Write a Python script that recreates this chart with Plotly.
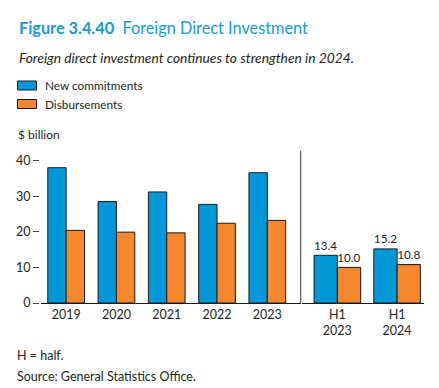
import plotly.graph_objects as go

years = ["2019", "2020", "2021", "2022", "2023"]
commit_years = [38.0, 28.5, 31.2, 27.7, 36.6]
disb_years = [20.4, 19.9, 19.7, 22.4, 23.2]

halves = ["H1<br>2023", "H1<br>2024"]
commit_half = [13.4, 15.2]
disb_half = [10.0, 10.8]

y_ticks = [0, 10, 20, 30, 40]

BLUE = "#0098D8"
ORANGE = "#F5872C"
TXT = "#231F20"
FONT = "Lato"

W, H = 439, 388
ML, MR, MT, MB = 25, 9, 143, 93
PW = W - ML - MR
PH = H - MT - MB


def px(x):
    return (x - ML) / PW


def py(y):
    return (H - MB - y) / PH


fig = go.Figure()
line = dict(color="#1a1a1a", width=1)
bw1 = 0.365
fig.add_trace(go.Bar(x=years, y=commit_years, marker=dict(color=BLUE, line=line),
                     width=bw1, offset=-bw1, xaxis="x", yaxis="y", name="New commitments"))
fig.add_trace(go.Bar(x=years, y=disb_years, marker=dict(color=ORANGE, line=line),
                     width=bw1, offset=0, xaxis="x", yaxis="y", name="Disbursements"))
bw2 = 0.39
lblfont = dict(size=13, color=TXT, family=FONT)
fig.add_trace(go.Bar(x=halves, y=commit_half, marker=dict(color=BLUE, line=line),
                     width=bw2, offset=-bw2, xaxis="x2", yaxis="y2",
                     text=[f"{v:.1f}" for v in commit_half], textposition="outside",
                     textfont=lblfont, cliponaxis=False, name="New commitments"))
fig.add_trace(go.Bar(x=halves, y=disb_half, marker=dict(color=ORANGE, line=line),
                     width=bw2, offset=0, xaxis="x2", yaxis="y2",
                     text=[f"{v:.1f}" for v in disb_half], textposition="outside",
                     textfont=lblfont, cliponaxis=False, name="Disbursements"))

yr = [0, 42.7]
tickfont = dict(size=12.5, color=TXT, family=FONT)
fig.update_layout(
    width=W, height=H, margin=dict(l=ML, r=MR, t=MT, b=MB, autoexpand=False),
    paper_bgcolor="white", plot_bgcolor="white",
    barmode="overlay", showlegend=False,
    font=dict(family=FONT, color=TXT),
    xaxis=dict(domain=[px(33), px(292.5)], range=[-0.5, 4.66], anchor="y",
               showline=True, linecolor="#1a1a1a", linewidth=1, showgrid=False,
               ticks="", tickfont=tickfont, automargin=False),
    xaxis2=dict(domain=[px(293.5), px(416)], range=[-0.6, 1.45], anchor="y2",
                showline=True, linecolor="#1a1a1a", linewidth=1, showgrid=False,
                ticks="", tickfont=tickfont, automargin=False),
    yaxis=dict(range=yr, anchor="free", position=px(31), tickvals=y_ticks,
               ticks="outside", ticklen=6, tickcolor="#444", showgrid=False,
               zeroline=False, showline=False, tickfont=tickfont, automargin=False),
    yaxis2=dict(range=yr, anchor="free", position=px(424), side="right",
                tickvals=y_ticks, ticks="outside", ticklen=6, tickcolor="#444",
                showticklabels=False, showgrid=False, zeroline=False, showline=False,
                automargin=False),
)

fig.add_shape(type="line", xref="paper", yref="paper", x0=px(292.7), x1=px(292.7),
              y0=py(295), y1=py(143), line=dict(color="#333", width=1))

for i, (c, lab) in enumerate([(BLUE, "New commitments"), (ORANGE, "Disbursements")]):
    yc = 77.5 + i * 18.5
    fig.add_shape(type="rect", xref="paper", yref="paper",
                  x0=px(9.5), x1=px(28.5), y0=py(yc - 4.5), y1=py(yc + 4.5),
                  fillcolor=c, line=dict(color="#1a1a1a", width=1))
    fig.add_annotation(xref="paper", yref="paper", x=px(35), y=py(yc), text=lab,
                       showarrow=False, xanchor="left", yanchor="middle",
                       font=dict(size=11.8, color=TXT, family=FONT))

texts = [
    (9, 19.5, "<b>Figure 3.4.40</b>  Foreign Direct Investment", dict(size=16.3, color="#1A9AD6", family=FONT)),
    (9, 50, "<i>Foreign direct investment continues to strengthen in 2024.</i>", dict(size=13.8, color=TXT, family=FONT)),
    (8, 127, "$ billion", dict(size=12, color=TXT, family=FONT)),
    (7, 347, "H = half.", dict(size=12.5, color=TXT, family=FONT)),
    (7, 368, "Source: General Statistics Office.", dict(size=12.5, color=TXT, family=FONT)),
]
for x, y, t, f in texts:
    fig.add_annotation(xref="paper", yref="paper", x=px(x), y=py(y), text=t,
                       showarrow=False, xanchor="left", yanchor="middle", font=f)

fig.write_html("out.html")
